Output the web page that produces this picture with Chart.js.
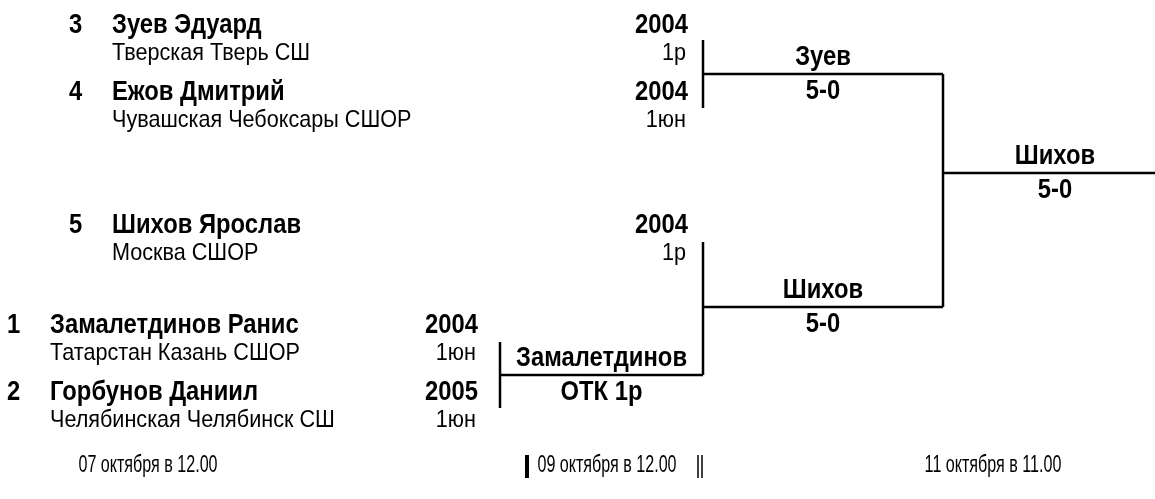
<!DOCTYPE html>
<html>
<head>
<meta charset="utf-8">
<script src="https://cdn.jsdelivr.net/npm/chart.js@4.4.1/dist/chart.umd.min.js"></script>
<style>
  html, body { margin: 0; padding: 0; background: #fff; }
  #wrap { width: 1155px; height: 499px; }
</style>
</head>
<body>
<div id="wrap"><canvas id="bracket" width="1155" height="499"></canvas></div>
<script>
// participants (seed order as drawn, top to bottom)
const seeds = [3, 4, 5, 1, 2];
const names = ['Зуев Эдуард', 'Ежов Дмитрий', 'Шихов Ярослав', 'Замалетдинов Ранис', 'Горбунов Даниил'];
const years = ['2004', '2004', '2004', '2004', '2005'];
const clubs = ['Тверская Тверь СШ', 'Чувашская Чебоксары СШОР', 'Москва СШОР', 'Татарстан Казань СШОР', 'Челябинская Челябинск СШ'];
const sportRanks = ['1р', '1юн', '1р', '1юн', '1юн'];

// matches: winner and score
const matchWinners = ['Зуев', 'Замалетдинов', 'Шихов', 'Шихов'];
const matchScores = ['5-0', 'ОТК 1р', '5-0', '5-0'];

// round dates
const roundDates = ['07 октября в 12.00', '09 октября в 12.00', '11 октября в 11.00'];

// ---- layout (chart units = pixels of the 1155x499 picture) ----
const rowY = [25, 92, 225, 325, 392];
const clubGap = 28;
const seedX = [69, 69, 69, 7, 7];
const nameX = [112, 112, 112, 50, 50];
const yearRight = [688, 688, 688, 478, 478];

// bracket geometry: x of the vertical, its top/bottom, y of the winner line, end of winner line
const matchBoxes = [
  { x0: 703, top: 40, bottom: 108, y: 74, x1: 943 },
  { x0: 500, top: 342, bottom: 408, y: 375, x1: 703 },
  { x0: 703, top: 242, bottom: 375, y: 307, x1: 943 },
  { x0: 943, top: 74, bottom: 307, y: 173, x1: 1160, cx: 1055 }
];
const dateX = [148, 607, 993];
const dateY = 466;

// no Arial Narrow here, so Liberation Sans squeezed sideways
const FAMILY = "'Liberation Sans', Arial, sans-serif";
const bold = { font: 'bold 28px ' + FAMILY, squeeze: 0.85 };
const plain = { font: '24px ' + FAMILY, squeeze: 0.9 };
const small = { font: '23px ' + FAMILY, squeeze: 0.7 };

const datasets = [];
function seg(a, b, w) {
  datasets.push({
    data: [a, b],
    showLine: true,
    borderColor: '#000',
    borderWidth: w,
    pointRadius: 0,
    tension: 0,
    clip: false
  });
}
matchBoxes.forEach(m => {
  seg({ x: m.x0, y: m.top }, { x: m.x0, y: m.bottom }, 2.5);
  seg({ x: m.x0, y: m.y }, { x: m.x1, y: m.y }, 2.5);
});
// separators between round dates
seg({ x: 527, y: 455 }, { x: 527, y: 478 }, 4);
seg({ x: 698, y: 455 }, { x: 698, y: 478 }, 1.5);
seg({ x: 702, y: 455 }, { x: 702, y: 478 }, 1.5);

function put(ctx, text, x, y, align, style) {
  ctx.save();
  ctx.font = style.font;
  ctx.textAlign = align;
  ctx.translate(x, y);
  ctx.scale(style.squeeze, 1);
  ctx.fillText(text, 0, 0);
  ctx.restore();
}

const textPlugin = {
  id: 'bracketText',
  afterDatasetsDraw(chart) {
    const ctx = chart.ctx;
    const sx = chart.scales.x, sy = chart.scales.y;
    const X = v => sx.getPixelForValue(v);
    const Y = v => sy.getPixelForValue(v);
    ctx.save();
    ctx.fillStyle = '#000';
    ctx.textBaseline = 'middle';

    names.forEach((n, i) => {
      const y = Y(rowY[i]), yc = Y(rowY[i] + clubGap);
      put(ctx, String(seeds[i]), X(seedX[i]), y, 'left', bold);
      put(ctx, n, X(nameX[i]), y, 'left', bold);
      put(ctx, years[i], X(yearRight[i]), y, 'right', bold);
      put(ctx, clubs[i], X(nameX[i]), yc, 'left', plain);
      put(ctx, sportRanks[i], X(yearRight[i] - 2), yc, 'right', plain);
    });

    matchBoxes.forEach((m, i) => {
      const cx = m.cx !== undefined ? m.cx : (m.x0 + m.x1) / 2;
      put(ctx, matchWinners[i], X(cx), Y(m.y - 17), 'center', bold);
      put(ctx, matchScores[i], X(cx), Y(m.y + 17), 'center', bold);
    });

    roundDates.forEach((d, i) => put(ctx, d, X(dateX[i]), Y(dateY), 'center', small));
    ctx.restore();
  }
};

new Chart(document.getElementById('bracket'), {
  type: 'scatter',
  data: { datasets },
  options: {
    responsive: false,
    animation: false,
    devicePixelRatio: 1,
    layout: { padding: 0 },
    plugins: { legend: { display: false }, tooltip: { enabled: false } },
    scales: {
      x: { type: 'linear', min: 0, max: 1155, display: false },
      y: { type: 'linear', min: 0, max: 499, reverse: true, display: false }
    }
  },
  plugins: [textPlugin]
});
</script>
</body>
</html>
